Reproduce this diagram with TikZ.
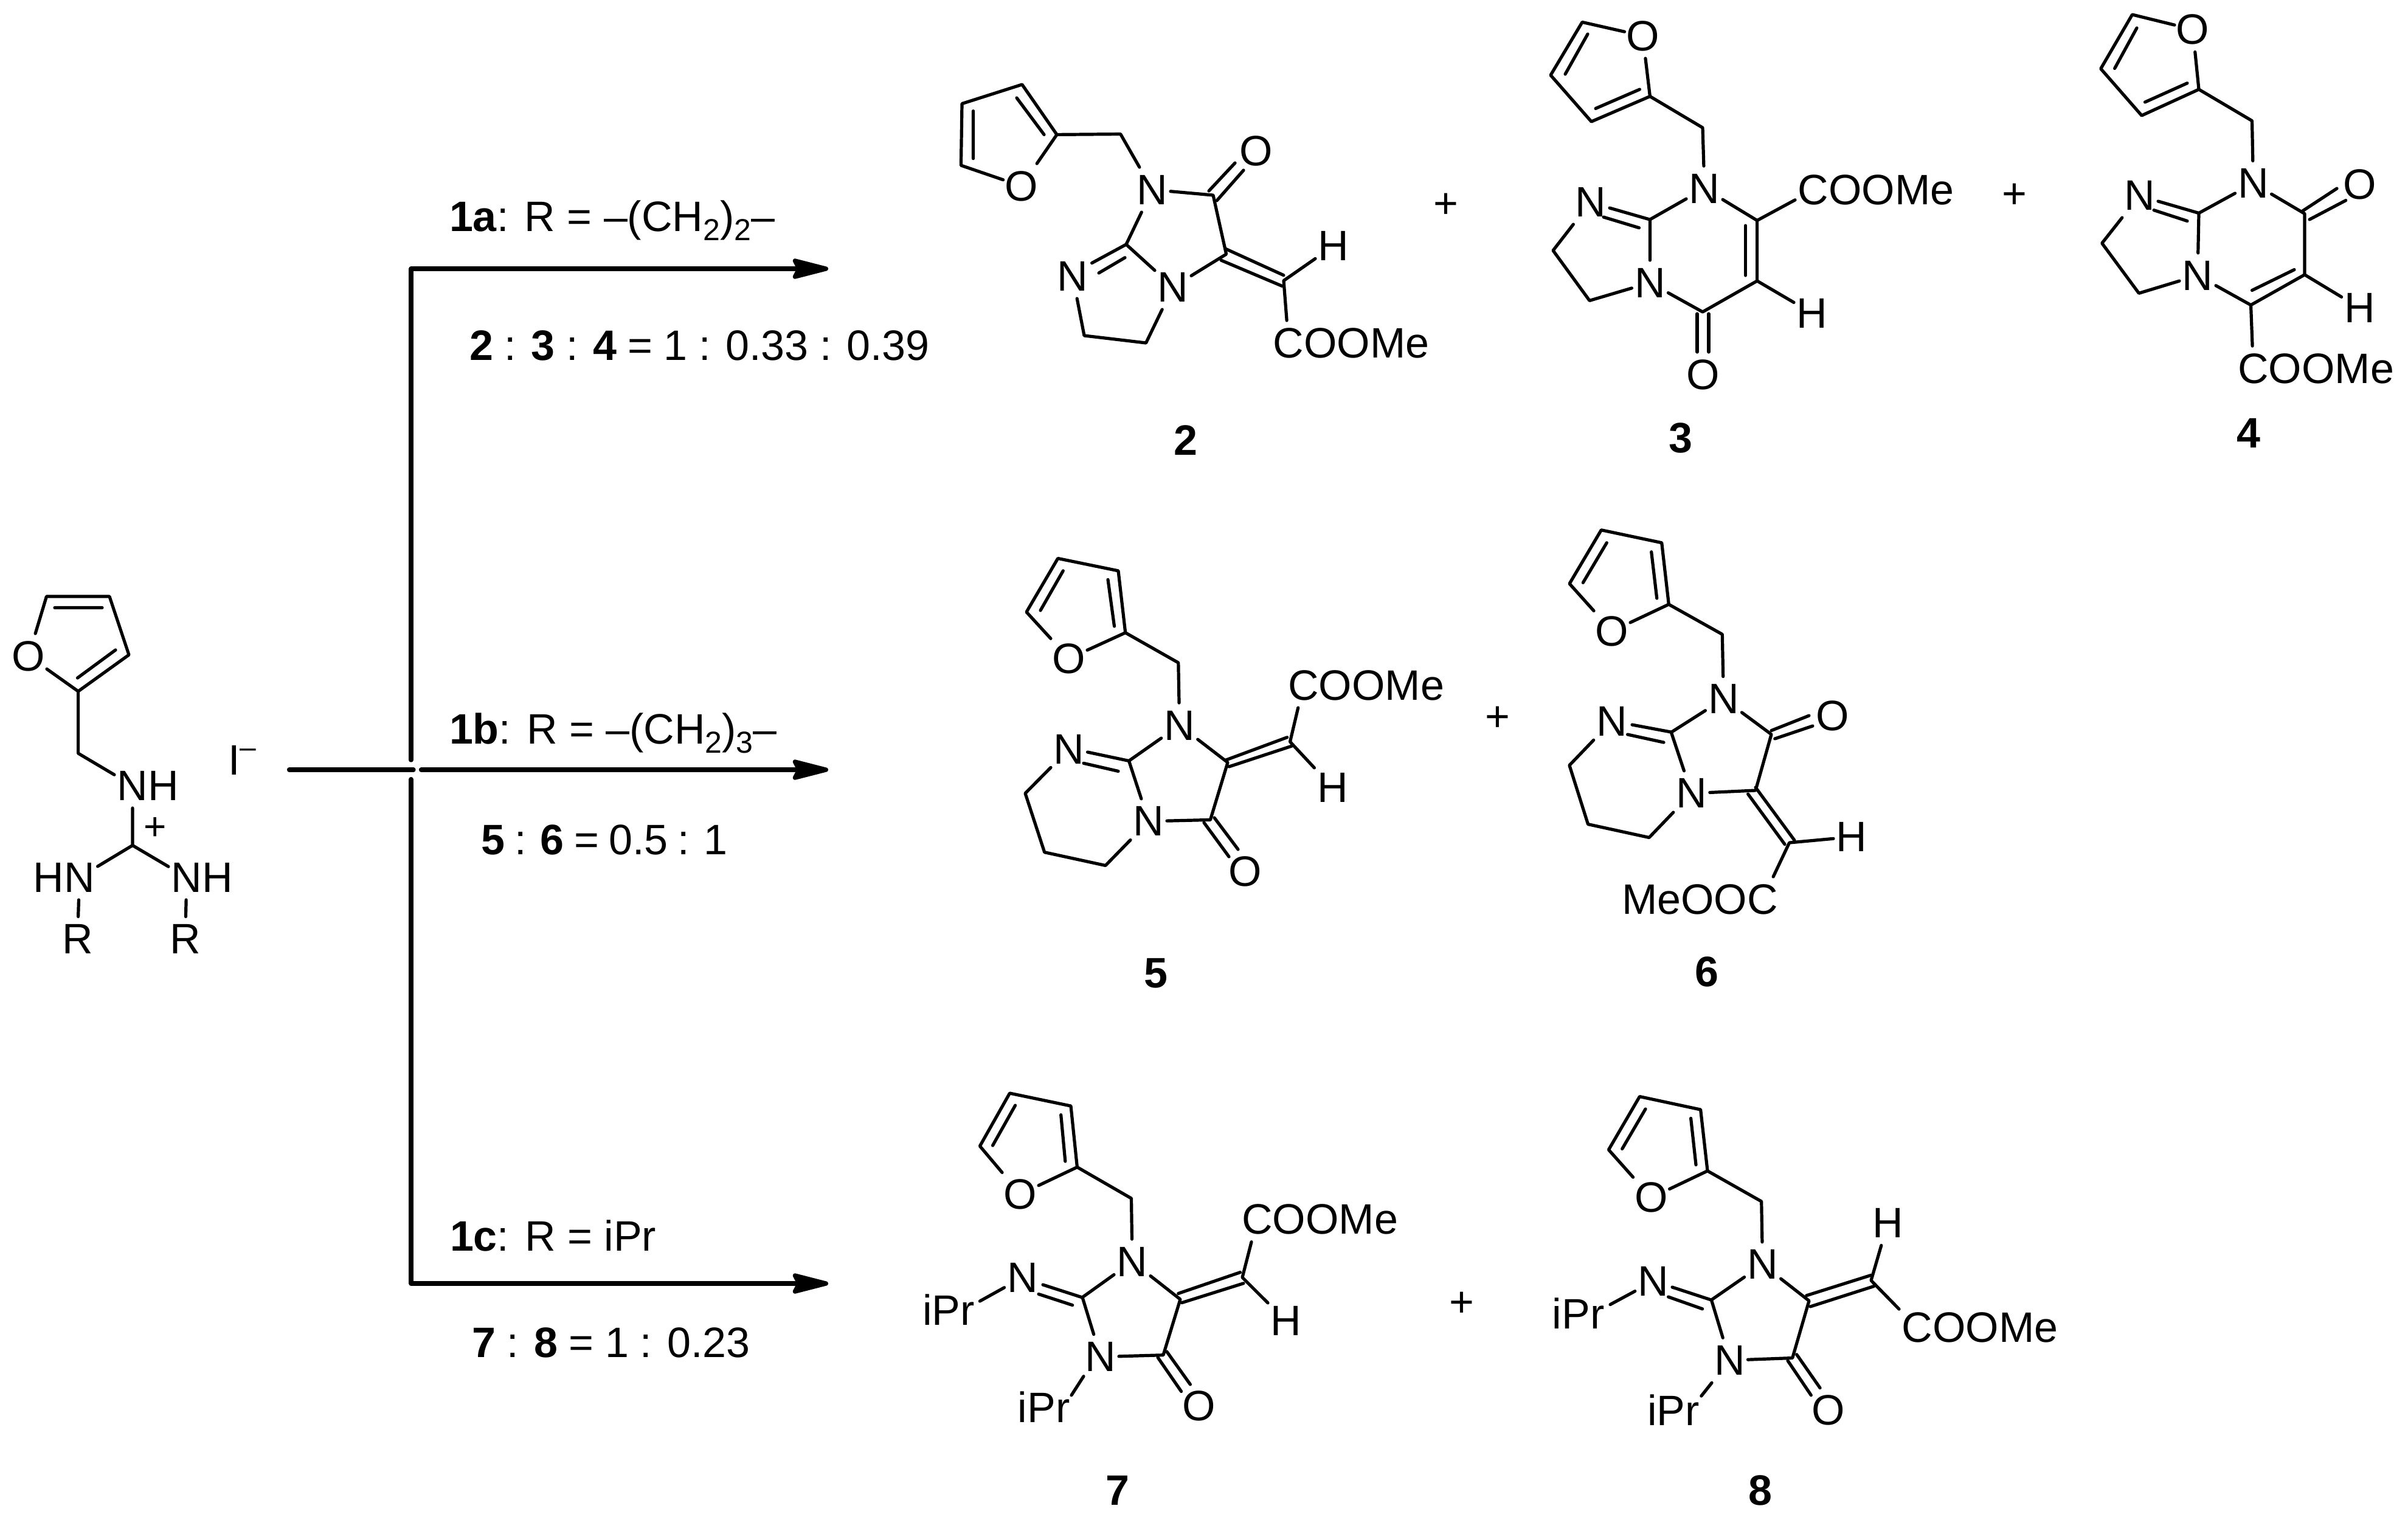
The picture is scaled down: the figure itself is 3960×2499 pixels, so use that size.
\documentclass[tikz,border=0pt]{standalone}
\usepackage{fontspec}
\setmainfont{Liberation Sans}
\usetikzlibrary{arrows.meta}
\newcommand\lsub[1]{\raisebox{-3.75pt}{\fontsize{12.5}{15}\selectfont #1}}
\tikzset{
  x=0.25pt,y=-0.25pt,
  bond/.style={line width=1.3pt,line cap=round,line join=round},
  rxn/.style={line width=1.8pt,line cap=round,line join=round},
  rxnhead/.style={rxn,-{Stealth[length=18pt,width=9pt,inset=2.25pt,round=false]}},
  atom/.style={shape=rectangle,inner sep=0pt,outer sep=0pt,minimum width=15pt,minimum height=18.5pt,font=\fontsize{17.5}{21}\selectfont},
  lab/.style={shape=rectangle,inner sep=0pt,outer sep=0pt,font=\fontsize{17.5}{21}\selectfont},
  lbl/.style={lab,anchor=base west},
  num/.style={lab,font=\fontsize{17.5}{21}\selectfont\bfseries},
  smallplus/.style={lab,font=\fontsize{16}{18}\selectfont},
}
\begin{document}
\begin{tikzpicture}
\useasboundingbox (0,0) rectangle (3960,2499);
% ---------- reaction lines
\coordinate (rs) at (475.5,1266); \coordinate (re) at (680,1266);
\coordinate (v1) at (676,1250); \coordinate (k1) at (676,442); \coordinate (t1) at (1362,442);
\coordinate (h2) at (692.5,1266); \coordinate (t2) at (1362,1266);
\coordinate (v2) at (676,1281.5); \coordinate (k3) at (676,2111); \coordinate (t3) at (1362,2111);
\draw[rxn] (rs) -- (re);
\draw[rxnhead] (v1) -- (k1) -- (t1);
\draw[rxnhead] (h2) -- (t2);
\draw[rxnhead] (v2) -- (k3) -- (t3);
\node[lbl] (l1a) at (739,380) {\textbf{1a}: R = –(CH\lsub{2})\lsub{2}–};
\node[lbl] (l1r) at (772,592) {\spaceskip=4.6pt \textbf{2} : \textbf{3} : \textbf{4} = 1 : 0.33 : 0.39};
\node[lbl] (l1b) at (739,1223.5) {\textbf{1b}: R = –(CH\lsub{2})\lsub{3}–};
\node[lbl] (l2r) at (791,1405.6) {\spaceskip=4.1pt \textbf{5} : \textbf{6} = 0.5 : 1};
\node[lbl] (l1c) at (740,2057) {\textbf{1c}: R = iPr};
\node[lbl] (l3r) at (776,2232.7) {\spaceskip=4.65pt \textbf{7} : \textbf{8} = 1 : 0.23};
% ---------- starting material
\node[atom] (so) at (47,1079) {O};
\coordinate (sc5) at (76.5,981); \coordinate (sc4) at (180,981);
\coordinate (sc3) at (212,1077); \coordinate (sc2) at (128.6,1137);
\coordinate (sch) at (128.6,1239);
\node[atom] (sn1) at (218,1292) {N\rlap{H}};
\coordinate (scp) at (218,1390.4);
\node[atom] (sn2) at (130.6,1443) {\llap{H}N};
\node[atom] (sn3) at (307,1443) {N\rlap{H}};
\node[atom] (sr1) at (127.5,1544.5) {R};
\node[atom] (sr2) at (304.6,1544.5) {R};
\node[smallplus] (spl) at (255,1363) {+};
\node[lbl] (siod) at (375,1274) {I\raisebox{7.25pt}{\fontsize{12}{14}\selectfont –}};
\draw[bond] (so) -- (sc5) -- (sc4) -- (sc3) -- (sc2) -- (so);
\draw[bond] (90,999.5) -- (168,999.5) (127.5,1115) -- (190,1069);
\draw[bond] (sc2) -- (sch) -- (sn1) -- (scp) -- (sn2) -- (sr1);
\draw[bond] (scp) -- (sn3) -- (sr2);
% ---------- compound 2
\node[atom] (ao) at (1679.7,306) {O};
\coordinate (ac5) at (1580.4,272); \coordinate (ac4) at (1582,170.5);
\coordinate (ac3) at (1680.8,139); \coordinate (ac2) at (1738,221.4);
\coordinate (ach) at (1842.7,220.5);
\node[atom] (an1) at (1895,312) {N};
\coordinate (aco) at (1995,321);
\node[atom] (aox) at (2065.4,248) {O};
\coordinate (acx) at (2016.6,418);
\node[atom] (an2) at (1929,472) {N};
\coordinate (ac8) at (1852,402);
\node[atom] (an3) at (1764,454) {N};
\coordinate (ae1) at (1783,552); \coordinate (ae2) at (1884.6,564);
\coordinate (acv) at (2111,461.6);
\node[atom] (ah) at (2193,404.5) {H};
\node[atom] (ace) at (2119,564) {C\rlap{OOMe}};
\node[num] (n2) at (1949.5,723.6) {2};
\node[lab] (pa) at (2378,338) {+};
\draw[bond] (ao) -- (ac5) -- (ac4) -- (ac3) -- (ac2) -- (ao);
\draw[bond] (1600.5,182.6) -- (1600.5,260.7) (1672,161) -- (1717,221.4);
\draw[bond] (ac2) -- (ach) -- (an1) -- (ac8) -- (an2) -- (acx) -- (aco) -- (an1);
\draw[bond] (1988,314) -- (2031,268) (2001,330) -- (2045,280);
\draw[bond] (2015,409) -- (2111,452.7) (2008,428) -- (2108.5,470.5);
\draw[bond] (1795.6,432.6) -- (1852,402) (1807,449) -- (1850,423.7);
\draw[bond] (an3) -- (ae1) -- (ae2) -- (an2);
\draw[bond] (ah) -- (acv) -- (ace);
% ---------- compound 3
\node[atom] (bo) at (2701.5,59) {O};
\coordinate (bc5) at (2602,36.4); \coordinate (bc4) at (2550,123.6);
\coordinate (bc3) at (2617,200); \coordinate (bc2) at (2713.4,158.5);
\coordinate (bch) at (2800,210);
\node[atom] (bn1) at (2803,310) {N};
\coordinate (bc8) at (2713.4,361);
\node[atom] (bn3) at (2616,332) {N};
\node[atom] (bn2) at (2713.4,465) {N};
\coordinate (be1) at (2554,412); \coordinate (be2) at (2614,494.4);
\coordinate (bco) at (2800,513);
\node[atom] (box) at (2801,616.6) {O};
\coordinate (bcv) at (2889.6,462); \coordinate (bcc) at (2889.6,362.6);
\node[atom] (bce) at (2982,312.6) {C\rlap{OOMe}};
\node[atom] (bh) at (2980,515) {H};
\node[num] (n3) at (2764,720) {3};
\node[lab] (pb) at (3312.5,322) {+};
\draw[bond] (bo) -- (bc5) -- (bc4) -- (bc3) -- (bc2) -- (bo);
\draw[bond] (2611,56) -- (2574,122) (2624,178.4) -- (2696.5,147);
\draw[bond] (bc2) -- (bch) -- (bn1) -- (bc8) -- (bn2) -- (bco) -- (bcv) -- (bcc) -- (bn1);
\draw[bond] (2713,361) -- (2647,342) (2695.5,374.7) -- (2637,357);
\draw[bond] (bn3) -- (be1) -- (be2) -- (bn2);
\draw[bond] (2791,516) -- (2791,579) (2810,516) -- (2810,579);
\draw[bond] (2870.6,371) -- (2870.6,453);
\draw[bond] (bcc) -- (bce) (bcv) -- (bh);
% ---------- compound 4
\node[atom] (co) at (3606,48.5) {O};
\coordinate (cc5) at (3506.5,24); \coordinate (cc4) at (3454.7,113);
\coordinate (cc3) at (3522,190); \coordinate (cc2) at (3616,147);
\coordinate (cch) at (3703.5,198.7);
\node[atom] (cn1) at (3705.5,301.5) {N};
\coordinate (cc8) at (3616,350.5);
\node[atom] (cn3) at (3519,321) {N};
\node[atom] (cn2) at (3614,453) {N};
\coordinate (ce1) at (3456.7,400); \coordinate (ce2) at (3517.4,482.3);
\coordinate (ccc) at (3701.5,501.7); \coordinate (ccv) at (3790,451.8);
\coordinate (cco) at (3790,351.4);
\node[atom] (cox) at (3880.6,303) {O};
\node[atom] (ch) at (3880.6,506.5) {H};
\node[atom] (cce) at (3705.5,606) {C\rlap{OOMe}};
\node[num] (n4) at (3697.5,712.5) {4};
\draw[bond] (co) -- (cc5) -- (cc4) -- (cc3) -- (cc2) -- (co);
\draw[bond] (3514,46) -- (3477.6,112.5) (3527.4,168) -- (3597,136.7);
\draw[bond] (cc2) -- (cch) -- (cn1) -- (cc8) -- (cn2) -- (ccc) -- (ccv) -- (cco) -- (cn1);
\draw[bond] (3616,350.5) -- (3549,331) (3597,363.5) -- (3542,345.6);
\draw[bond] (cn3) -- (ce1) -- (ce2) -- (cn2);
\draw[bond] (3785,348) -- (3843,310) (3798,361) -- (3857.7,329.6);
\draw[bond] (3703.5,477.5) -- (3773,443.5);
\draw[bond] (ccv) -- (ch) (ccc) -- (cce);
% ---------- compound 5
\node[atom] (do) at (1758,1083) {O};
\coordinate (dc5) at (1688,1006.6); \coordinate (dc4) at (1739.7,918.4);
\coordinate (dc3) at (1839,938.8); \coordinate (dc2) at (1850.7,1040.6);
\coordinate (dch) at (1937.8,1090);
\node[atom] (dn1) at (1939.7,1193) {N};
\coordinate (dc8) at (1856.5,1251.4);
\node[atom] (dn3) at (1758,1232) {N};
\node[atom] (dn2) at (1889,1350.8) {N};
\coordinate (de1) at (1686,1304.8); \coordinate (de2) at (1717.7,1401.7); \coordinate (de3) at (1818,1423.5);
\coordinate (dco) at (1990.4,1348.4);
\node[atom] (dox) at (2047.8,1433) {O};
\coordinate (dcx) at (2019,1254); \coordinate (dcv) at (2121.5,1220);
\node[atom] (dce) at (2143.5,1127) {C\rlap{OOMe}};
\node[atom] (dh) at (2191.4,1295) {H};
\node[num] (n5) at (1901.4,1600.4) {5};
\node[lab] (pd) at (2463,1182) {+};
\draw[bond] (do) -- (dc5) -- (dc4) -- (dc3) -- (dc2) -- (do);
\draw[bond] (1748.3,938.8) -- (1711,1004) (1822,953.3) -- (1832.5,1030);
\draw[bond] (dc2) -- (dch) -- (dn1) -- (dc8) -- (dn2) -- (dco) -- (dcx) -- (dn1);
\draw[bond] (1856.5,1251.4) -- (1788.5,1237) (1839,1268.4) -- (1782,1255.3);
\draw[bond] (dn3) -- (de1) -- (de2) -- (de3) -- (dn2);
\draw[bond] (1980,1353) -- (2021,1409) (1997,1345) -- (2036,1397);
\draw[bond] (2016,1250) -- (2116.7,1212.7) (2021,1261) -- (2124.4,1227);
\draw[bond] (dce) -- (dcv) -- (dh);
% ---------- compound 6
\node[atom] (eo) at (2651,1038) {O};
\coordinate (ec5) at (2581,960); \coordinate (ec4) at (2633.3,871.7);
\coordinate (ec3) at (2732.7,892.7); \coordinate (ec2) at (2744.3,994);
\coordinate (ech) at (2832.3,1043.3);
\node[atom] (en1) at (2834.4,1149.6) {N};
\coordinate (ec8) at (2748.3,1204.4);
\node[atom] (en3) at (2650.7,1186) {N};
\node[atom] (en2) at (2781.8,1304.8) {N};
\coordinate (ee1) at (2580.9,1258.7); \coordinate (ee2) at (2611.5,1355.6); \coordinate (ee3) at (2712,1377.5);
\coordinate (eco) at (2913,1207.8);
\node[atom] (eox) at (3013.4,1177.8) {O};
\coordinate (ecx) at (2887,1300); \coordinate (ecv) at (2942.6,1386);
\node[atom] (eh) at (3045,1376.5) {H};
\node[atom] (ece) at (2898.6,1479) {\llap{MeOO}C};
\node[num] (n6) at (2806.7,1598) {6};
\draw[bond] (eo) -- (ec5) -- (ec4) -- (ec3) -- (ec2) -- (eo);
\draw[bond] (2642.3,892.7) -- (2603.3,958.3) (2715.7,907.7) -- (2724.7,984);
\draw[bond] (ec2) -- (ech) -- (en1) -- (ec8) -- (en2) -- (ecx) -- (eco) -- (en1);
\draw[bond] (2748,1204) -- (2684,1192) (2736,1221) -- (2676.5,1208);
\draw[bond] (en3) -- (ee1) -- (ee2) -- (ee3) -- (en2);
\draw[bond] (2913,1201.5) -- (2975,1177) (2918.7,1215) -- (2980.9,1194);
\draw[bond] (2887,1295) -- (2951,1382) (2874.6,1306) -- (2935,1388.6);
\draw[bond] (eh) -- (ecv) -- (ece);
% ---------- compound 7
\node[atom] (fo) at (1678,1964) {O};
\coordinate (fc5) at (1611.4,1885); \coordinate (fc4) at (1660.5,1798);
\coordinate (fc3) at (1761,1819); \coordinate (fc2) at (1771.4,1919.6);
\coordinate (fch) at (1860.5,1971);
\node[atom] (fn1) at (1862,2075) {N};
\coordinate (fc8) at (1780,2133.7);
\node[atom] (fn3) at (1681.6,2101) {N};
\node[lab] (fi1) at (1560,2153.7) {iPr};
\coordinate (fi1e) at (1611.4,2140);
\node[atom] (fn2) at (1810,2231.6) {N};
\node[lab] (fi2) at (1716.7,2313.8) {iPr};
\coordinate (fi2s) at (1782,2263.6); \coordinate (fi2e) at (1762,2294.7);
\coordinate (fco) at (1913,2228.7);
\node[atom] (fox) at (1971.4,2312.8) {O};
\coordinate (fcx) at (1941,2137); \coordinate (fcv) at (2043,2101);
\node[atom] (fce) at (2067.5,2005.6) {C\rlap{OOMe}};
\node[atom] (fh) at (2115,2172.8) {H};
\node[num] (n7) at (1838,2451.4) {7};
\node[lab] (pf) at (2404.4,2145) {+};
\draw[bond] (fo) -- (fc5) -- (fc4) -- (fc3) -- (fc2) -- (fo);
\draw[bond] (1669.6,1818) -- (1632.5,1884) (1744.7,1833.6) -- (1751.8,1910);
\draw[bond] (fc2) -- (fch) -- (fn1) -- (fc8) -- (fn2) -- (fco) -- (fcx) -- (fn1);
\draw[bond] (1780,2134) -- (1715,2113) (1763.7,2146.6) -- (1708,2128.4);
\draw[bond] (fn3) -- (fi1e) (fi2s) -- (fi2e);
\draw[bond] (1904,2232.6) -- (1942.6,2288.5) (1918.8,2223) -- (1957.4,2277);
\draw[bond] (1937.7,2127.4) -- (2039.5,2092.6) (1943.3,2142.7) -- (2045,2110.7);
\draw[bond] (fce) -- (fcv) -- (fh);
% ---------- compound 8
\node[atom] (go) at (2715.6,1969.8) {O};
\coordinate (gc5) at (2645.4,1891); \coordinate (gc4) at (2696.4,1803.5);
\coordinate (gc3) at (2796.6,1825); \coordinate (gc2) at (2808,1925.8);
\coordinate (gch) at (2896.7,1976);
\node[atom] (gn1) at (2898.6,2079.7) {N};
\coordinate (gc8) at (2814.4,2138);
\node[atom] (gn3) at (2718.8,2107.4) {N};
\node[lab] (gi1) at (2595.7,2160) {iPr};
\coordinate (gi1e) at (2648,2145.6);
\node[atom] (gn2) at (2844.4,2237.3) {N};
\node[lab] (gi2) at (2752,2318.6) {iPr};
\coordinate (gi2e) at (2797.8,2296);
\coordinate (gco) at (2947.7,2233.5);
\node[atom] (gox) at (3007,2319.5) {O};
\coordinate (gcx) at (2975,2139.4); \coordinate (gcv) at (3077,2106);
\node[atom] (gh) at (3104.6,2011.3) {H};
\node[atom] (gce) at (3153,2183.8) {C\rlap{OOMe}};
\node[num] (n8) at (2895.4,2451.4) {8};
\draw[bond] (go) -- (gc5) -- (gc4) -- (gc3) -- (gc2) -- (go);
\draw[bond] (2706,1824) -- (2667.7,1889.5) (2780.6,1839.3) -- (2789,1915.8);
\draw[bond] (gc2) -- (gch) -- (gn1) -- (gc8) -- (gn2) -- (gco) -- (gcx) -- (gn1);
\draw[bond] (2814,2138) -- (2750,2117) (2799.7,2152.8) -- (2743.6,2133);
\draw[bond] (gn3) -- (gi1e) (gn2) -- (gi2e);
\draw[bond] (2940,2238) -- (2978.3,2294.7) (2954.7,2227.8) -- (2993,2282.7);
\draw[bond] (2970.7,2130.8) -- (3077,2097.3) (2977,2149) -- (3081.6,2115.5);
\draw[bond] (gh) -- (gcv) -- (gce);
\end{tikzpicture}
\end{document}
